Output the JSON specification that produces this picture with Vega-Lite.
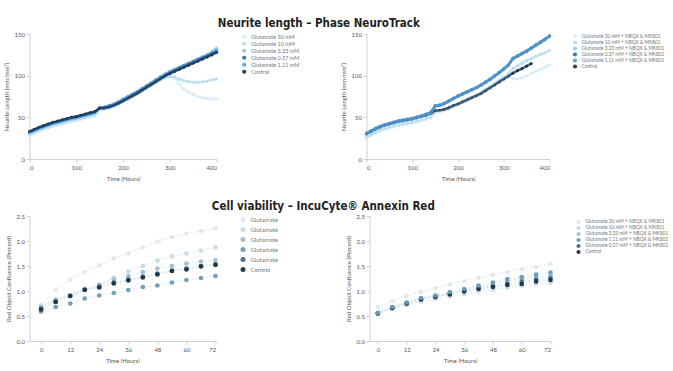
{
"$schema":"https://vega.github.io/schema/vega-lite/v6.json",
"background":"white",
"padding":{"left":2.5,"top":18,"right":0,"bottom":0},
"config":{
"view":{"stroke":null},
"font":"Lato",
"axis":{"domainColor":"#cfcfcf","tickColor":"#cfcfcf","tickSize":3,"labelFontSize":6,"labelColor":"#555","titleFontSize":6,"titleColor":"#555","titleFontWeight":"normal","grid":false,"labelPadding":2,"titlePadding":5},
"legend":{"labelFontSize":5.5,"labelColor":"#777","symbolType":"circle","rowPadding":0,"symbolSize":18,"title":null},
"title":{"fontSize":11.5,"font":"DejaVu Sans Condensed","fontWeight":"bold","color":"#222","anchor":"middle","offset":1}
},
"datasets":{
"tl":[
{"series":"Glutamate 30 mM","t":0,"v":28},{"series":"Glutamate 30 mM","t":10,"v":30.5},{"series":"Glutamate 30 mM","t":20,"v":33},{"series":"Glutamate 30 mM","t":30,"v":35},{"series":"Glutamate 30 mM","t":40,"v":37},{"series":"Glutamate 30 mM","t":50,"v":39},{"series":"Glutamate 30 mM","t":60,"v":40.5},{"series":"Glutamate 30 mM","t":70,"v":42},{"series":"Glutamate 30 mM","t":80,"v":43.5},{"series":"Glutamate 30 mM","t":90,"v":45},{"series":"Glutamate 30 mM","t":100,"v":46},{"series":"Glutamate 30 mM","t":110,"v":47.5},{"series":"Glutamate 30 mM","t":120,"v":49},{"series":"Glutamate 30 mM","t":130,"v":50.5},{"series":"Glutamate 30 mM","t":140,"v":52},{"series":"Glutamate 30 mM","t":150,"v":59.5},{"series":"Glutamate 30 mM","t":160,"v":59.5},{"series":"Glutamate 30 mM","t":170,"v":61},{"series":"Glutamate 30 mM","t":180,"v":63},{"series":"Glutamate 30 mM","t":190,"v":65.5},{"series":"Glutamate 30 mM","t":200,"v":68.5},{"series":"Glutamate 30 mM","t":210,"v":71.5},{"series":"Glutamate 30 mM","t":220,"v":74.5},{"series":"Glutamate 30 mM","t":230,"v":77.5},{"series":"Glutamate 30 mM","t":240,"v":81},{"series":"Glutamate 30 mM","t":250,"v":84.5},{"series":"Glutamate 30 mM","t":260,"v":88},{"series":"Glutamate 30 mM","t":270,"v":91.5},{"series":"Glutamate 30 mM","t":280,"v":94.5},{"series":"Glutamate 30 mM","t":290,"v":97},{"series":"Glutamate 30 mM","t":300,"v":98.5},{"series":"Glutamate 30 mM","t":310,"v":97.5},{"series":"Glutamate 30 mM","t":320,"v":90},{"series":"Glutamate 30 mM","t":330,"v":84},{"series":"Glutamate 30 mM","t":340,"v":80.5},{"series":"Glutamate 30 mM","t":350,"v":77.5},{"series":"Glutamate 30 mM","t":360,"v":75},{"series":"Glutamate 30 mM","t":370,"v":73.5},{"series":"Glutamate 30 mM","t":380,"v":72.5},{"series":"Glutamate 30 mM","t":390,"v":72},{"series":"Glutamate 30 mM","t":400,"v":72},
{"series":"Glutamate 10 mM","t":0,"v":29},{"series":"Glutamate 10 mM","t":10,"v":31.5},{"series":"Glutamate 10 mM","t":20,"v":34},{"series":"Glutamate 10 mM","t":30,"v":36},{"series":"Glutamate 10 mM","t":40,"v":38},{"series":"Glutamate 10 mM","t":50,"v":40},{"series":"Glutamate 10 mM","t":60,"v":41.5},{"series":"Glutamate 10 mM","t":70,"v":43},{"series":"Glutamate 10 mM","t":80,"v":44.5},{"series":"Glutamate 10 mM","t":90,"v":46},{"series":"Glutamate 10 mM","t":100,"v":47},{"series":"Glutamate 10 mM","t":110,"v":48.5},{"series":"Glutamate 10 mM","t":120,"v":50},{"series":"Glutamate 10 mM","t":130,"v":51.5},{"series":"Glutamate 10 mM","t":140,"v":53},{"series":"Glutamate 10 mM","t":150,"v":60},{"series":"Glutamate 10 mM","t":160,"v":60},{"series":"Glutamate 10 mM","t":170,"v":61.5},{"series":"Glutamate 10 mM","t":180,"v":63.5},{"series":"Glutamate 10 mM","t":190,"v":66},{"series":"Glutamate 10 mM","t":200,"v":69},{"series":"Glutamate 10 mM","t":210,"v":72},{"series":"Glutamate 10 mM","t":220,"v":75},{"series":"Glutamate 10 mM","t":230,"v":78},{"series":"Glutamate 10 mM","t":240,"v":81.5},{"series":"Glutamate 10 mM","t":250,"v":85},{"series":"Glutamate 10 mM","t":260,"v":88.5},{"series":"Glutamate 10 mM","t":270,"v":92},{"series":"Glutamate 10 mM","t":280,"v":95},{"series":"Glutamate 10 mM","t":290,"v":97.5},{"series":"Glutamate 10 mM","t":300,"v":99},{"series":"Glutamate 10 mM","t":310,"v":98.5},{"series":"Glutamate 10 mM","t":320,"v":96},{"series":"Glutamate 10 mM","t":330,"v":94},{"series":"Glutamate 10 mM","t":340,"v":93},{"series":"Glutamate 10 mM","t":350,"v":92},{"series":"Glutamate 10 mM","t":360,"v":92},{"series":"Glutamate 10 mM","t":370,"v":92.5},{"series":"Glutamate 10 mM","t":380,"v":93.5},{"series":"Glutamate 10 mM","t":390,"v":95},{"series":"Glutamate 10 mM","t":400,"v":96},
{"series":"Glutamate 3.33 mM","t":0,"v":31},{"series":"Glutamate 3.33 mM","t":10,"v":33.5},{"series":"Glutamate 3.33 mM","t":20,"v":36},{"series":"Glutamate 3.33 mM","t":30,"v":38},{"series":"Glutamate 3.33 mM","t":40,"v":40},{"series":"Glutamate 3.33 mM","t":50,"v":42},{"series":"Glutamate 3.33 mM","t":60,"v":43.5},{"series":"Glutamate 3.33 mM","t":70,"v":45},{"series":"Glutamate 3.33 mM","t":80,"v":46.5},{"series":"Glutamate 3.33 mM","t":90,"v":48},{"series":"Glutamate 3.33 mM","t":100,"v":49},{"series":"Glutamate 3.33 mM","t":110,"v":50.5},{"series":"Glutamate 3.33 mM","t":120,"v":52},{"series":"Glutamate 3.33 mM","t":130,"v":53.5},{"series":"Glutamate 3.33 mM","t":140,"v":55},{"series":"Glutamate 3.33 mM","t":150,"v":61.5},{"series":"Glutamate 3.33 mM","t":160,"v":62},{"series":"Glutamate 3.33 mM","t":170,"v":63.5},{"series":"Glutamate 3.33 mM","t":180,"v":65.5},{"series":"Glutamate 3.33 mM","t":190,"v":68},{"series":"Glutamate 3.33 mM","t":200,"v":71},{"series":"Glutamate 3.33 mM","t":210,"v":74},{"series":"Glutamate 3.33 mM","t":220,"v":77},{"series":"Glutamate 3.33 mM","t":230,"v":80},{"series":"Glutamate 3.33 mM","t":240,"v":83.5},{"series":"Glutamate 3.33 mM","t":250,"v":87},{"series":"Glutamate 3.33 mM","t":260,"v":90.5},{"series":"Glutamate 3.33 mM","t":270,"v":94},{"series":"Glutamate 3.33 mM","t":280,"v":97.5},{"series":"Glutamate 3.33 mM","t":290,"v":101},{"series":"Glutamate 3.33 mM","t":300,"v":104},{"series":"Glutamate 3.33 mM","t":310,"v":106.5},{"series":"Glutamate 3.33 mM","t":320,"v":109},{"series":"Glutamate 3.33 mM","t":330,"v":111.5},{"series":"Glutamate 3.33 mM","t":340,"v":114},{"series":"Glutamate 3.33 mM","t":350,"v":116.5},{"series":"Glutamate 3.33 mM","t":360,"v":119},{"series":"Glutamate 3.33 mM","t":370,"v":121.5},{"series":"Glutamate 3.33 mM","t":380,"v":124.5},{"series":"Glutamate 3.33 mM","t":390,"v":128.5},{"series":"Glutamate 3.33 mM","t":400,"v":133},
{"series":"Glutamate 1.11 mM","t":0,"v":31.5},{"series":"Glutamate 1.11 mM","t":10,"v":34},{"series":"Glutamate 1.11 mM","t":20,"v":36.5},{"series":"Glutamate 1.11 mM","t":30,"v":38.5},{"series":"Glutamate 1.11 mM","t":40,"v":40.5},{"series":"Glutamate 1.11 mM","t":50,"v":42.5},{"series":"Glutamate 1.11 mM","t":60,"v":44},{"series":"Glutamate 1.11 mM","t":70,"v":45.5},{"series":"Glutamate 1.11 mM","t":80,"v":47},{"series":"Glutamate 1.11 mM","t":90,"v":48.5},{"series":"Glutamate 1.11 mM","t":100,"v":49.5},{"series":"Glutamate 1.11 mM","t":110,"v":51},{"series":"Glutamate 1.11 mM","t":120,"v":52.5},{"series":"Glutamate 1.11 mM","t":130,"v":54},{"series":"Glutamate 1.11 mM","t":140,"v":55.5},{"series":"Glutamate 1.11 mM","t":150,"v":62},{"series":"Glutamate 1.11 mM","t":160,"v":62.5},{"series":"Glutamate 1.11 mM","t":170,"v":64},{"series":"Glutamate 1.11 mM","t":180,"v":66},{"series":"Glutamate 1.11 mM","t":190,"v":68.5},{"series":"Glutamate 1.11 mM","t":200,"v":72},{"series":"Glutamate 1.11 mM","t":210,"v":75},{"series":"Glutamate 1.11 mM","t":220,"v":78},{"series":"Glutamate 1.11 mM","t":230,"v":81},{"series":"Glutamate 1.11 mM","t":240,"v":84.5},{"series":"Glutamate 1.11 mM","t":250,"v":88},{"series":"Glutamate 1.11 mM","t":260,"v":91.5},{"series":"Glutamate 1.11 mM","t":270,"v":95},{"series":"Glutamate 1.11 mM","t":280,"v":98.5},{"series":"Glutamate 1.11 mM","t":290,"v":102},{"series":"Glutamate 1.11 mM","t":300,"v":105},{"series":"Glutamate 1.11 mM","t":310,"v":107.5},{"series":"Glutamate 1.11 mM","t":320,"v":110},{"series":"Glutamate 1.11 mM","t":330,"v":112.5},{"series":"Glutamate 1.11 mM","t":340,"v":115},{"series":"Glutamate 1.11 mM","t":350,"v":117.5},{"series":"Glutamate 1.11 mM","t":360,"v":120},{"series":"Glutamate 1.11 mM","t":370,"v":122.5},{"series":"Glutamate 1.11 mM","t":380,"v":125},{"series":"Glutamate 1.11 mM","t":390,"v":127.5},{"series":"Glutamate 1.11 mM","t":400,"v":131},
{"series":"Glutamate 0.37 mM","t":0,"v":32.5},{"series":"Glutamate 0.37 mM","t":10,"v":35},{"series":"Glutamate 0.37 mM","t":20,"v":37.5},{"series":"Glutamate 0.37 mM","t":30,"v":39.5},{"series":"Glutamate 0.37 mM","t":40,"v":41.5},{"series":"Glutamate 0.37 mM","t":50,"v":43.5},{"series":"Glutamate 0.37 mM","t":60,"v":45},{"series":"Glutamate 0.37 mM","t":70,"v":46.5},{"series":"Glutamate 0.37 mM","t":80,"v":48},{"series":"Glutamate 0.37 mM","t":90,"v":49.5},{"series":"Glutamate 0.37 mM","t":100,"v":50.5},{"series":"Glutamate 0.37 mM","t":110,"v":52},{"series":"Glutamate 0.37 mM","t":120,"v":53.5},{"series":"Glutamate 0.37 mM","t":130,"v":55},{"series":"Glutamate 0.37 mM","t":140,"v":56.5},{"series":"Glutamate 0.37 mM","t":150,"v":61},{"series":"Glutamate 0.37 mM","t":160,"v":61.5},{"series":"Glutamate 0.37 mM","t":170,"v":63},{"series":"Glutamate 0.37 mM","t":180,"v":65},{"series":"Glutamate 0.37 mM","t":190,"v":67.5},{"series":"Glutamate 0.37 mM","t":200,"v":70.5},{"series":"Glutamate 0.37 mM","t":210,"v":73.5},{"series":"Glutamate 0.37 mM","t":220,"v":76.5},{"series":"Glutamate 0.37 mM","t":230,"v":79.5},{"series":"Glutamate 0.37 mM","t":240,"v":83},{"series":"Glutamate 0.37 mM","t":250,"v":86.5},{"series":"Glutamate 0.37 mM","t":260,"v":90},{"series":"Glutamate 0.37 mM","t":270,"v":93.5},{"series":"Glutamate 0.37 mM","t":280,"v":97},{"series":"Glutamate 0.37 mM","t":290,"v":100.5},{"series":"Glutamate 0.37 mM","t":300,"v":103.5},{"series":"Glutamate 0.37 mM","t":310,"v":106},{"series":"Glutamate 0.37 mM","t":320,"v":108.5},{"series":"Glutamate 0.37 mM","t":330,"v":111},{"series":"Glutamate 0.37 mM","t":340,"v":113.5},{"series":"Glutamate 0.37 mM","t":350,"v":116},{"series":"Glutamate 0.37 mM","t":360,"v":118.5},{"series":"Glutamate 0.37 mM","t":370,"v":121},{"series":"Glutamate 0.37 mM","t":380,"v":123.5},{"series":"Glutamate 0.37 mM","t":390,"v":126},{"series":"Glutamate 0.37 mM","t":400,"v":129},
{"series":"Control","t":0,"v":33},{"series":"Control","t":10,"v":35.5},{"series":"Control","t":20,"v":38},{"series":"Control","t":30,"v":40},{"series":"Control","t":40,"v":42},{"series":"Control","t":50,"v":44},{"series":"Control","t":60,"v":45.5},{"series":"Control","t":70,"v":47},{"series":"Control","t":80,"v":48.5},{"series":"Control","t":90,"v":50},{"series":"Control","t":100,"v":51},{"series":"Control","t":110,"v":52.5},{"series":"Control","t":120,"v":54},{"series":"Control","t":130,"v":55.5},{"series":"Control","t":140,"v":57},{"series":"Control","t":150,"v":61},{"series":"Control","t":160,"v":61},{"series":"Control","t":170,"v":62},{"series":"Control","t":180,"v":64},{"series":"Control","t":190,"v":66.5},{"series":"Control","t":200,"v":69.5},{"series":"Control","t":210,"v":72.5},{"series":"Control","t":220,"v":75.5},{"series":"Control","t":230,"v":78.5},{"series":"Control","t":240,"v":82},{"series":"Control","t":250,"v":85.5},{"series":"Control","t":260,"v":89},{"series":"Control","t":270,"v":92.5},{"series":"Control","t":280,"v":96},{"series":"Control","t":290,"v":99.5},{"series":"Control","t":300,"v":102.5},{"series":"Control","t":310,"v":105},{"series":"Control","t":320,"v":107.5},{"series":"Control","t":330,"v":110},{"series":"Control","t":340,"v":112.5},{"series":"Control","t":350,"v":115},{"series":"Control","t":360,"v":117.5},{"series":"Control","t":370,"v":120},{"series":"Control","t":380,"v":122.5},{"series":"Control","t":390,"v":125},{"series":"Control","t":400,"v":128}
],
"tr":[
{"series":"Glutamate 30 mM + NBQX & MK801","t":0,"v":25},{"series":"Glutamate 30 mM + NBQX & MK801","t":10,"v":28},{"series":"Glutamate 30 mM + NBQX & MK801","t":20,"v":31},{"series":"Glutamate 30 mM + NBQX & MK801","t":30,"v":33.5},{"series":"Glutamate 30 mM + NBQX & MK801","t":40,"v":35.5},{"series":"Glutamate 30 mM + NBQX & MK801","t":50,"v":37},{"series":"Glutamate 30 mM + NBQX & MK801","t":60,"v":38.5},{"series":"Glutamate 30 mM + NBQX & MK801","t":70,"v":40},{"series":"Glutamate 30 mM + NBQX & MK801","t":80,"v":41},{"series":"Glutamate 30 mM + NBQX & MK801","t":90,"v":42},{"series":"Glutamate 30 mM + NBQX & MK801","t":100,"v":43},{"series":"Glutamate 30 mM + NBQX & MK801","t":110,"v":44.5},{"series":"Glutamate 30 mM + NBQX & MK801","t":120,"v":46},{"series":"Glutamate 30 mM + NBQX & MK801","t":130,"v":47.5},{"series":"Glutamate 30 mM + NBQX & MK801","t":140,"v":49},{"series":"Glutamate 30 mM + NBQX & MK801","t":150,"v":56},{"series":"Glutamate 30 mM + NBQX & MK801","t":160,"v":56.5},{"series":"Glutamate 30 mM + NBQX & MK801","t":170,"v":58},{"series":"Glutamate 30 mM + NBQX & MK801","t":180,"v":60},{"series":"Glutamate 30 mM + NBQX & MK801","t":190,"v":62.5},{"series":"Glutamate 30 mM + NBQX & MK801","t":200,"v":65},{"series":"Glutamate 30 mM + NBQX & MK801","t":210,"v":67.5},{"series":"Glutamate 30 mM + NBQX & MK801","t":220,"v":70},{"series":"Glutamate 30 mM + NBQX & MK801","t":230,"v":73},{"series":"Glutamate 30 mM + NBQX & MK801","t":240,"v":76},{"series":"Glutamate 30 mM + NBQX & MK801","t":250,"v":79},{"series":"Glutamate 30 mM + NBQX & MK801","t":260,"v":82.5},{"series":"Glutamate 30 mM + NBQX & MK801","t":270,"v":86},{"series":"Glutamate 30 mM + NBQX & MK801","t":280,"v":89.5},{"series":"Glutamate 30 mM + NBQX & MK801","t":290,"v":93},{"series":"Glutamate 30 mM + NBQX & MK801","t":300,"v":97},{"series":"Glutamate 30 mM + NBQX & MK801","t":310,"v":100.5},{"series":"Glutamate 30 mM + NBQX & MK801","t":320,"v":96.5},{"series":"Glutamate 30 mM + NBQX & MK801","t":330,"v":96},{"series":"Glutamate 30 mM + NBQX & MK801","t":340,"v":97.5},{"series":"Glutamate 30 mM + NBQX & MK801","t":350,"v":100},{"series":"Glutamate 30 mM + NBQX & MK801","t":360,"v":102.5},{"series":"Glutamate 30 mM + NBQX & MK801","t":370,"v":105},{"series":"Glutamate 30 mM + NBQX & MK801","t":380,"v":107.5},{"series":"Glutamate 30 mM + NBQX & MK801","t":390,"v":110},{"series":"Glutamate 30 mM + NBQX & MK801","t":400,"v":113},
{"series":"Glutamate 10 mM + NBQX & MK801","t":0,"v":26},{"series":"Glutamate 10 mM + NBQX & MK801","t":10,"v":29},{"series":"Glutamate 10 mM + NBQX & MK801","t":20,"v":32},{"series":"Glutamate 10 mM + NBQX & MK801","t":30,"v":34.5},{"series":"Glutamate 10 mM + NBQX & MK801","t":40,"v":36.5},{"series":"Glutamate 10 mM + NBQX & MK801","t":50,"v":38},{"series":"Glutamate 10 mM + NBQX & MK801","t":60,"v":39.5},{"series":"Glutamate 10 mM + NBQX & MK801","t":70,"v":41},{"series":"Glutamate 10 mM + NBQX & MK801","t":80,"v":42},{"series":"Glutamate 10 mM + NBQX & MK801","t":90,"v":43},{"series":"Glutamate 10 mM + NBQX & MK801","t":100,"v":44},{"series":"Glutamate 10 mM + NBQX & MK801","t":110,"v":45.5},{"series":"Glutamate 10 mM + NBQX & MK801","t":120,"v":47},{"series":"Glutamate 10 mM + NBQX & MK801","t":130,"v":48.5},{"series":"Glutamate 10 mM + NBQX & MK801","t":140,"v":50},{"series":"Glutamate 10 mM + NBQX & MK801","t":150,"v":57},{"series":"Glutamate 10 mM + NBQX & MK801","t":160,"v":57.5},{"series":"Glutamate 10 mM + NBQX & MK801","t":170,"v":59},{"series":"Glutamate 10 mM + NBQX & MK801","t":180,"v":61},{"series":"Glutamate 10 mM + NBQX & MK801","t":190,"v":63.5},{"series":"Glutamate 10 mM + NBQX & MK801","t":200,"v":66},{"series":"Glutamate 10 mM + NBQX & MK801","t":210,"v":68.5},{"series":"Glutamate 10 mM + NBQX & MK801","t":220,"v":71},{"series":"Glutamate 10 mM + NBQX & MK801","t":230,"v":74},{"series":"Glutamate 10 mM + NBQX & MK801","t":240,"v":77},{"series":"Glutamate 10 mM + NBQX & MK801","t":250,"v":80},{"series":"Glutamate 10 mM + NBQX & MK801","t":260,"v":83.5},{"series":"Glutamate 10 mM + NBQX & MK801","t":270,"v":87},{"series":"Glutamate 10 mM + NBQX & MK801","t":280,"v":90.5},{"series":"Glutamate 10 mM + NBQX & MK801","t":290,"v":94.5},{"series":"Glutamate 10 mM + NBQX & MK801","t":300,"v":98.5},{"series":"Glutamate 10 mM + NBQX & MK801","t":310,"v":102},{"series":"Glutamate 10 mM + NBQX & MK801","t":320,"v":109},{"series":"Glutamate 10 mM + NBQX & MK801","t":330,"v":112},{"series":"Glutamate 10 mM + NBQX & MK801","t":340,"v":115},{"series":"Glutamate 10 mM + NBQX & MK801","t":350,"v":118},{"series":"Glutamate 10 mM + NBQX & MK801","t":360,"v":120.5},{"series":"Glutamate 10 mM + NBQX & MK801","t":370,"v":123},{"series":"Glutamate 10 mM + NBQX & MK801","t":380,"v":125.5},{"series":"Glutamate 10 mM + NBQX & MK801","t":390,"v":127.5},{"series":"Glutamate 10 mM + NBQX & MK801","t":400,"v":130},
{"series":"Control","t":0,"v":30},{"series":"Control","t":10,"v":33},{"series":"Control","t":20,"v":36},{"series":"Control","t":30,"v":38.5},{"series":"Control","t":40,"v":40.5},{"series":"Control","t":50,"v":42},{"series":"Control","t":60,"v":43.5},{"series":"Control","t":70,"v":45},{"series":"Control","t":80,"v":46},{"series":"Control","t":90,"v":47},{"series":"Control","t":100,"v":48},{"series":"Control","t":110,"v":49.5},{"series":"Control","t":120,"v":51},{"series":"Control","t":130,"v":52.5},{"series":"Control","t":140,"v":54.5},{"series":"Control","t":150,"v":58},{"series":"Control","t":160,"v":58.5},{"series":"Control","t":170,"v":59.5},{"series":"Control","t":180,"v":61.5},{"series":"Control","t":190,"v":64},{"series":"Control","t":200,"v":66},{"series":"Control","t":210,"v":68.5},{"series":"Control","t":220,"v":71},{"series":"Control","t":230,"v":73.5},{"series":"Control","t":240,"v":76},{"series":"Control","t":250,"v":78.5},{"series":"Control","t":260,"v":82},{"series":"Control","t":270,"v":85.5},{"series":"Control","t":280,"v":89},{"series":"Control","t":290,"v":92.5},{"series":"Control","t":300,"v":96},{"series":"Control","t":310,"v":99.5},{"series":"Control","t":320,"v":103},{"series":"Control","t":330,"v":106},{"series":"Control","t":340,"v":108.5},{"series":"Control","t":350,"v":111.5},{"series":"Control","t":360,"v":114.5},
{"series":"Glutamate 3.33 mM + NBQX & MK801","t":0,"v":30},{"series":"Glutamate 3.33 mM + NBQX & MK801","t":10,"v":33},{"series":"Glutamate 3.33 mM + NBQX & MK801","t":20,"v":36},{"series":"Glutamate 3.33 mM + NBQX & MK801","t":30,"v":38.5},{"series":"Glutamate 3.33 mM + NBQX & MK801","t":40,"v":40.5},{"series":"Glutamate 3.33 mM + NBQX & MK801","t":50,"v":42},{"series":"Glutamate 3.33 mM + NBQX & MK801","t":60,"v":43.5},{"series":"Glutamate 3.33 mM + NBQX & MK801","t":70,"v":45},{"series":"Glutamate 3.33 mM + NBQX & MK801","t":80,"v":46},{"series":"Glutamate 3.33 mM + NBQX & MK801","t":90,"v":47},{"series":"Glutamate 3.33 mM + NBQX & MK801","t":100,"v":48},{"series":"Glutamate 3.33 mM + NBQX & MK801","t":110,"v":49.5},{"series":"Glutamate 3.33 mM + NBQX & MK801","t":120,"v":51},{"series":"Glutamate 3.33 mM + NBQX & MK801","t":130,"v":53},{"series":"Glutamate 3.33 mM + NBQX & MK801","t":140,"v":55},{"series":"Glutamate 3.33 mM + NBQX & MK801","t":150,"v":63},{"series":"Glutamate 3.33 mM + NBQX & MK801","t":160,"v":64},{"series":"Glutamate 3.33 mM + NBQX & MK801","t":170,"v":66},{"series":"Glutamate 3.33 mM + NBQX & MK801","t":180,"v":69},{"series":"Glutamate 3.33 mM + NBQX & MK801","t":190,"v":72},{"series":"Glutamate 3.33 mM + NBQX & MK801","t":200,"v":75},{"series":"Glutamate 3.33 mM + NBQX & MK801","t":210,"v":77.5},{"series":"Glutamate 3.33 mM + NBQX & MK801","t":220,"v":80},{"series":"Glutamate 3.33 mM + NBQX & MK801","t":230,"v":82.5},{"series":"Glutamate 3.33 mM + NBQX & MK801","t":240,"v":85},{"series":"Glutamate 3.33 mM + NBQX & MK801","t":250,"v":88},{"series":"Glutamate 3.33 mM + NBQX & MK801","t":260,"v":91.5},{"series":"Glutamate 3.33 mM + NBQX & MK801","t":270,"v":95},{"series":"Glutamate 3.33 mM + NBQX & MK801","t":280,"v":99},{"series":"Glutamate 3.33 mM + NBQX & MK801","t":290,"v":103},{"series":"Glutamate 3.33 mM + NBQX & MK801","t":300,"v":107.5},{"series":"Glutamate 3.33 mM + NBQX & MK801","t":310,"v":112},{"series":"Glutamate 3.33 mM + NBQX & MK801","t":320,"v":120},{"series":"Glutamate 3.33 mM + NBQX & MK801","t":330,"v":123},{"series":"Glutamate 3.33 mM + NBQX & MK801","t":340,"v":126},{"series":"Glutamate 3.33 mM + NBQX & MK801","t":350,"v":129},{"series":"Glutamate 3.33 mM + NBQX & MK801","t":360,"v":132.5},{"series":"Glutamate 3.33 mM + NBQX & MK801","t":370,"v":136},{"series":"Glutamate 3.33 mM + NBQX & MK801","t":380,"v":139.5},{"series":"Glutamate 3.33 mM + NBQX & MK801","t":390,"v":143},{"series":"Glutamate 3.33 mM + NBQX & MK801","t":400,"v":147},
{"series":"Glutamate 0.37 mM + NBQX & MK801","t":0,"v":30.5},{"series":"Glutamate 0.37 mM + NBQX & MK801","t":10,"v":33.5},{"series":"Glutamate 0.37 mM + NBQX & MK801","t":20,"v":36.5},{"series":"Glutamate 0.37 mM + NBQX & MK801","t":30,"v":39},{"series":"Glutamate 0.37 mM + NBQX & MK801","t":40,"v":41},{"series":"Glutamate 0.37 mM + NBQX & MK801","t":50,"v":42.5},{"series":"Glutamate 0.37 mM + NBQX & MK801","t":60,"v":44},{"series":"Glutamate 0.37 mM + NBQX & MK801","t":70,"v":45.5},{"series":"Glutamate 0.37 mM + NBQX & MK801","t":80,"v":46.5},{"series":"Glutamate 0.37 mM + NBQX & MK801","t":90,"v":47.5},{"series":"Glutamate 0.37 mM + NBQX & MK801","t":100,"v":48.5},{"series":"Glutamate 0.37 mM + NBQX & MK801","t":110,"v":50},{"series":"Glutamate 0.37 mM + NBQX & MK801","t":120,"v":51.5},{"series":"Glutamate 0.37 mM + NBQX & MK801","t":130,"v":53.5},{"series":"Glutamate 0.37 mM + NBQX & MK801","t":140,"v":55.5},{"series":"Glutamate 0.37 mM + NBQX & MK801","t":150,"v":63.5},{"series":"Glutamate 0.37 mM + NBQX & MK801","t":160,"v":64.5},{"series":"Glutamate 0.37 mM + NBQX & MK801","t":170,"v":66.5},{"series":"Glutamate 0.37 mM + NBQX & MK801","t":180,"v":69.5},{"series":"Glutamate 0.37 mM + NBQX & MK801","t":190,"v":72.5},{"series":"Glutamate 0.37 mM + NBQX & MK801","t":200,"v":75.5},{"series":"Glutamate 0.37 mM + NBQX & MK801","t":210,"v":78},{"series":"Glutamate 0.37 mM + NBQX & MK801","t":220,"v":80.5},{"series":"Glutamate 0.37 mM + NBQX & MK801","t":230,"v":83},{"series":"Glutamate 0.37 mM + NBQX & MK801","t":240,"v":85.5},{"series":"Glutamate 0.37 mM + NBQX & MK801","t":250,"v":88.5},{"series":"Glutamate 0.37 mM + NBQX & MK801","t":260,"v":92},{"series":"Glutamate 0.37 mM + NBQX & MK801","t":270,"v":95.5},{"series":"Glutamate 0.37 mM + NBQX & MK801","t":280,"v":99.5},{"series":"Glutamate 0.37 mM + NBQX & MK801","t":290,"v":103.5},{"series":"Glutamate 0.37 mM + NBQX & MK801","t":300,"v":108},{"series":"Glutamate 0.37 mM + NBQX & MK801","t":310,"v":112.5},{"series":"Glutamate 0.37 mM + NBQX & MK801","t":320,"v":120.5},{"series":"Glutamate 0.37 mM + NBQX & MK801","t":330,"v":123.5},{"series":"Glutamate 0.37 mM + NBQX & MK801","t":340,"v":126.5},{"series":"Glutamate 0.37 mM + NBQX & MK801","t":350,"v":129.5},{"series":"Glutamate 0.37 mM + NBQX & MK801","t":360,"v":133},{"series":"Glutamate 0.37 mM + NBQX & MK801","t":370,"v":136.5},{"series":"Glutamate 0.37 mM + NBQX & MK801","t":380,"v":140},{"series":"Glutamate 0.37 mM + NBQX & MK801","t":390,"v":143.5},{"series":"Glutamate 0.37 mM + NBQX & MK801","t":400,"v":147.5},
{"series":"Glutamate 1.11 mM + NBQX & MK801","t":0,"v":31},{"series":"Glutamate 1.11 mM + NBQX & MK801","t":10,"v":34},{"series":"Glutamate 1.11 mM + NBQX & MK801","t":20,"v":37},{"series":"Glutamate 1.11 mM + NBQX & MK801","t":30,"v":39.5},{"series":"Glutamate 1.11 mM + NBQX & MK801","t":40,"v":41.5},{"series":"Glutamate 1.11 mM + NBQX & MK801","t":50,"v":43},{"series":"Glutamate 1.11 mM + NBQX & MK801","t":60,"v":44.5},{"series":"Glutamate 1.11 mM + NBQX & MK801","t":70,"v":46},{"series":"Glutamate 1.11 mM + NBQX & MK801","t":80,"v":47},{"series":"Glutamate 1.11 mM + NBQX & MK801","t":90,"v":48},{"series":"Glutamate 1.11 mM + NBQX & MK801","t":100,"v":49},{"series":"Glutamate 1.11 mM + NBQX & MK801","t":110,"v":50.5},{"series":"Glutamate 1.11 mM + NBQX & MK801","t":120,"v":52},{"series":"Glutamate 1.11 mM + NBQX & MK801","t":130,"v":54},{"series":"Glutamate 1.11 mM + NBQX & MK801","t":140,"v":56},{"series":"Glutamate 1.11 mM + NBQX & MK801","t":150,"v":64},{"series":"Glutamate 1.11 mM + NBQX & MK801","t":160,"v":65},{"series":"Glutamate 1.11 mM + NBQX & MK801","t":170,"v":67},{"series":"Glutamate 1.11 mM + NBQX & MK801","t":180,"v":70},{"series":"Glutamate 1.11 mM + NBQX & MK801","t":190,"v":73},{"series":"Glutamate 1.11 mM + NBQX & MK801","t":200,"v":76},{"series":"Glutamate 1.11 mM + NBQX & MK801","t":210,"v":78.5},{"series":"Glutamate 1.11 mM + NBQX & MK801","t":220,"v":81},{"series":"Glutamate 1.11 mM + NBQX & MK801","t":230,"v":83.5},{"series":"Glutamate 1.11 mM + NBQX & MK801","t":240,"v":86},{"series":"Glutamate 1.11 mM + NBQX & MK801","t":250,"v":89},{"series":"Glutamate 1.11 mM + NBQX & MK801","t":260,"v":92.5},{"series":"Glutamate 1.11 mM + NBQX & MK801","t":270,"v":96},{"series":"Glutamate 1.11 mM + NBQX & MK801","t":280,"v":100},{"series":"Glutamate 1.11 mM + NBQX & MK801","t":290,"v":104},{"series":"Glutamate 1.11 mM + NBQX & MK801","t":300,"v":108.5},{"series":"Glutamate 1.11 mM + NBQX & MK801","t":310,"v":113},{"series":"Glutamate 1.11 mM + NBQX & MK801","t":320,"v":121},{"series":"Glutamate 1.11 mM + NBQX & MK801","t":330,"v":124},{"series":"Glutamate 1.11 mM + NBQX & MK801","t":340,"v":127},{"series":"Glutamate 1.11 mM + NBQX & MK801","t":350,"v":130},{"series":"Glutamate 1.11 mM + NBQX & MK801","t":360,"v":133.5},{"series":"Glutamate 1.11 mM + NBQX & MK801","t":370,"v":137},{"series":"Glutamate 1.11 mM + NBQX & MK801","t":380,"v":140.5},{"series":"Glutamate 1.11 mM + NBQX & MK801","t":390,"v":144},{"series":"Glutamate 1.11 mM + NBQX & MK801","t":400,"v":148}
],
"bl":[
{"series":"Glutamate 30 mM","t":0,"v":0.72},{"series":"Glutamate 30 mM","t":6,"v":1.02},{"series":"Glutamate 30 mM","t":12,"v":1.23},{"series":"Glutamate 30 mM","t":18,"v":1.38},{"series":"Glutamate 30 mM","t":24,"v":1.51},{"series":"Glutamate 30 mM","t":30,"v":1.65},{"series":"Glutamate 30 mM","t":36,"v":1.75},{"series":"Glutamate 30 mM","t":42,"v":1.88},{"series":"Glutamate 30 mM","t":48,"v":1.99},{"series":"Glutamate 30 mM","t":54,"v":2.08},{"series":"Glutamate 30 mM","t":60,"v":2.15},{"series":"Glutamate 30 mM","t":66,"v":2.2},{"series":"Glutamate 30 mM","t":72,"v":2.25},
{"series":"Glutamate 10 mM","t":0,"v":0.7},{"series":"Glutamate 10 mM","t":6,"v":0.82},{"series":"Glutamate 10 mM","t":12,"v":0.92},{"series":"Glutamate 10 mM","t":18,"v":1.03},{"series":"Glutamate 10 mM","t":24,"v":1.13},{"series":"Glutamate 10 mM","t":30,"v":1.27},{"series":"Glutamate 10 mM","t":36,"v":1.39},{"series":"Glutamate 10 mM","t":42,"v":1.5},{"series":"Glutamate 10 mM","t":48,"v":1.61},{"series":"Glutamate 10 mM","t":54,"v":1.69},{"series":"Glutamate 10 mM","t":60,"v":1.75},{"series":"Glutamate 10 mM","t":66,"v":1.81},{"series":"Glutamate 10 mM","t":72,"v":1.87},
{"series":"Glutamate 3.33 mM","t":0,"v":0.68},{"series":"Glutamate 3.33 mM","t":6,"v":0.83},{"series":"Glutamate 3.33 mM","t":12,"v":0.91},{"series":"Glutamate 3.33 mM","t":18,"v":1.02},{"series":"Glutamate 3.33 mM","t":24,"v":1.12},{"series":"Glutamate 3.33 mM","t":30,"v":1.23},{"series":"Glutamate 3.33 mM","t":36,"v":1.3},{"series":"Glutamate 3.33 mM","t":42,"v":1.38},{"series":"Glutamate 3.33 mM","t":48,"v":1.45},{"series":"Glutamate 3.33 mM","t":54,"v":1.5},{"series":"Glutamate 3.33 mM","t":60,"v":1.55},{"series":"Glutamate 3.33 mM","t":66,"v":1.59},{"series":"Glutamate 3.33 mM","t":72,"v":1.62},
{"series":"Glutamate 1.11 mM","t":0,"v":0.59},{"series":"Glutamate 1.11 mM","t":6,"v":0.68},{"series":"Glutamate 1.11 mM","t":12,"v":0.75},{"series":"Glutamate 1.11 mM","t":18,"v":0.85},{"series":"Glutamate 1.11 mM","t":24,"v":0.91},{"series":"Glutamate 1.11 mM","t":30,"v":0.96},{"series":"Glutamate 1.11 mM","t":36,"v":1.02},{"series":"Glutamate 1.11 mM","t":42,"v":1.08},{"series":"Glutamate 1.11 mM","t":48,"v":1.11},{"series":"Glutamate 1.11 mM","t":54,"v":1.17},{"series":"Glutamate 1.11 mM","t":60,"v":1.22},{"series":"Glutamate 1.11 mM","t":66,"v":1.26},{"series":"Glutamate 1.11 mM","t":72,"v":1.3},
{"series":"Glutamate 0.37 mM","t":0,"v":0.65},{"series":"Glutamate 0.37 mM","t":6,"v":0.79},{"series":"Glutamate 0.37 mM","t":12,"v":0.9},{"series":"Glutamate 0.37 mM","t":18,"v":1.02},{"series":"Glutamate 0.37 mM","t":24,"v":1.09},{"series":"Glutamate 0.37 mM","t":30,"v":1.17},{"series":"Glutamate 0.37 mM","t":36,"v":1.23},{"series":"Glutamate 0.37 mM","t":42,"v":1.29},{"series":"Glutamate 0.37 mM","t":48,"v":1.35},{"series":"Glutamate 0.37 mM","t":54,"v":1.41},{"series":"Glutamate 0.37 mM","t":60,"v":1.45},{"series":"Glutamate 0.37 mM","t":66,"v":1.5},{"series":"Glutamate 0.37 mM","t":72,"v":1.54},
{"series":"Control","t":0,"v":0.63},{"series":"Control","t":6,"v":0.78},{"series":"Control","t":12,"v":0.9},{"series":"Control","t":18,"v":1.03},{"series":"Control","t":24,"v":1.07},{"series":"Control","t":30,"v":1.15},{"series":"Control","t":36,"v":1.21},{"series":"Control","t":42,"v":1.27},{"series":"Control","t":48,"v":1.33},{"series":"Control","t":54,"v":1.4},{"series":"Control","t":60,"v":1.43},{"series":"Control","t":66,"v":1.49},{"series":"Control","t":72,"v":1.52}
],
"br":[
{"series":"Glutamate 30 mM + NBQX & MK801","t":0,"v":0.68},{"series":"Glutamate 30 mM + NBQX & MK801","t":6,"v":0.8},{"series":"Glutamate 30 mM + NBQX & MK801","t":12,"v":0.9},{"series":"Glutamate 30 mM + NBQX & MK801","t":18,"v":0.98},{"series":"Glutamate 30 mM + NBQX & MK801","t":24,"v":1.06},{"series":"Glutamate 30 mM + NBQX & MK801","t":30,"v":1.13},{"series":"Glutamate 30 mM + NBQX & MK801","t":36,"v":1.2},{"series":"Glutamate 30 mM + NBQX & MK801","t":42,"v":1.26},{"series":"Glutamate 30 mM + NBQX & MK801","t":48,"v":1.32},{"series":"Glutamate 30 mM + NBQX & MK801","t":54,"v":1.38},{"series":"Glutamate 30 mM + NBQX & MK801","t":60,"v":1.44},{"series":"Glutamate 30 mM + NBQX & MK801","t":66,"v":1.48},{"series":"Glutamate 30 mM + NBQX & MK801","t":72,"v":1.54},
{"series":"Glutamate 10 mM + NBQX & MK801","t":0,"v":0.57},{"series":"Glutamate 10 mM + NBQX & MK801","t":6,"v":0.65},{"series":"Glutamate 10 mM + NBQX & MK801","t":12,"v":0.72},{"series":"Glutamate 10 mM + NBQX & MK801","t":18,"v":0.79},{"series":"Glutamate 10 mM + NBQX & MK801","t":24,"v":0.84},{"series":"Glutamate 10 mM + NBQX & MK801","t":30,"v":0.89},{"series":"Glutamate 10 mM + NBQX & MK801","t":36,"v":0.94},{"series":"Glutamate 10 mM + NBQX & MK801","t":42,"v":0.99},{"series":"Glutamate 10 mM + NBQX & MK801","t":48,"v":1.03},{"series":"Glutamate 10 mM + NBQX & MK801","t":54,"v":1.07},{"series":"Glutamate 10 mM + NBQX & MK801","t":60,"v":1.11},{"series":"Glutamate 10 mM + NBQX & MK801","t":66,"v":1.14},{"series":"Glutamate 10 mM + NBQX & MK801","t":72,"v":1.17},
{"series":"Glutamate 3.33 mM + NBQX & MK801","t":0,"v":0.56},{"series":"Glutamate 3.33 mM + NBQX & MK801","t":6,"v":0.67},{"series":"Glutamate 3.33 mM + NBQX & MK801","t":12,"v":0.76},{"series":"Glutamate 3.33 mM + NBQX & MK801","t":18,"v":0.85},{"series":"Glutamate 3.33 mM + NBQX & MK801","t":24,"v":0.9},{"series":"Glutamate 3.33 mM + NBQX & MK801","t":30,"v":0.96},{"series":"Glutamate 3.33 mM + NBQX & MK801","t":36,"v":1.02},{"series":"Glutamate 3.33 mM + NBQX & MK801","t":42,"v":1.08},{"series":"Glutamate 3.33 mM + NBQX & MK801","t":48,"v":1.14},{"series":"Glutamate 3.33 mM + NBQX & MK801","t":54,"v":1.2},{"series":"Glutamate 3.33 mM + NBQX & MK801","t":60,"v":1.25},{"series":"Glutamate 3.33 mM + NBQX & MK801","t":66,"v":1.28},{"series":"Glutamate 3.33 mM + NBQX & MK801","t":72,"v":1.31},
{"series":"Glutamate 0.37 mM + NBQX & MK801","t":0,"v":0.55},{"series":"Glutamate 0.37 mM + NBQX & MK801","t":6,"v":0.66},{"series":"Glutamate 0.37 mM + NBQX & MK801","t":12,"v":0.75},{"series":"Glutamate 0.37 mM + NBQX & MK801","t":18,"v":0.84},{"series":"Glutamate 0.37 mM + NBQX & MK801","t":24,"v":0.89},{"series":"Glutamate 0.37 mM + NBQX & MK801","t":30,"v":0.95},{"series":"Glutamate 0.37 mM + NBQX & MK801","t":36,"v":1.01},{"series":"Glutamate 0.37 mM + NBQX & MK801","t":42,"v":1.06},{"series":"Glutamate 0.37 mM + NBQX & MK801","t":48,"v":1.1},{"series":"Glutamate 0.37 mM + NBQX & MK801","t":54,"v":1.15},{"series":"Glutamate 0.37 mM + NBQX & MK801","t":60,"v":1.19},{"series":"Glutamate 0.37 mM + NBQX & MK801","t":66,"v":1.23},{"series":"Glutamate 0.37 mM + NBQX & MK801","t":72,"v":1.26},
{"series":"Control","t":0,"v":0.55},{"series":"Control","t":6,"v":0.66},{"series":"Control","t":12,"v":0.75},{"series":"Control","t":18,"v":0.83},{"series":"Control","t":24,"v":0.88},{"series":"Control","t":30,"v":0.93},{"series":"Control","t":36,"v":0.99},{"series":"Control","t":42,"v":1.04},{"series":"Control","t":48,"v":1.08},{"series":"Control","t":54,"v":1.12},{"series":"Control","t":60,"v":1.14},{"series":"Control","t":66,"v":1.19},{"series":"Control","t":72,"v":1.22},
{"series":"Glutamate 1.11 mM + NBQX & MK801","t":0,"v":0.56},{"series":"Glutamate 1.11 mM + NBQX & MK801","t":6,"v":0.68},{"series":"Glutamate 1.11 mM + NBQX & MK801","t":12,"v":0.77},{"series":"Glutamate 1.11 mM + NBQX & MK801","t":18,"v":0.86},{"series":"Glutamate 1.11 mM + NBQX & MK801","t":24,"v":0.91},{"series":"Glutamate 1.11 mM + NBQX & MK801","t":30,"v":0.98},{"series":"Glutamate 1.11 mM + NBQX & MK801","t":36,"v":1.04},{"series":"Glutamate 1.11 mM + NBQX & MK801","t":42,"v":1.11},{"series":"Glutamate 1.11 mM + NBQX & MK801","t":48,"v":1.17},{"series":"Glutamate 1.11 mM + NBQX & MK801","t":54,"v":1.24},{"series":"Glutamate 1.11 mM + NBQX & MK801","t":60,"v":1.28},{"series":"Glutamate 1.11 mM + NBQX & MK801","t":66,"v":1.33},{"series":"Glutamate 1.11 mM + NBQX & MK801","t":72,"v":1.37}
]
},
"spacing":19,
"vconcat":[
{"title":{"text":"Neurite length – Phase NeuroTrack","dx":-15},
"bounds":"flush","spacing":150,
"resolve":{"scale":{"color":"independent","x":"independent","y":"independent"}},
"hconcat":[
{"width":187,"height":125,"data":{"name":"tl"},
"encoding":{
"x":{"field":"t","type":"quantitative","scale":{"domain":[0,400],"nice":false},"axis":{"values":[0,100,200,300,400],"title":"Time (Hours)"}},
"y":{"field":"v","type":"quantitative","scale":{"domain":[0,150],"nice":false},"axis":{"values":[0,50,100,150],"title":"Neurite Length (mm/mm²)"}},
"color":{"field":"series","type":"nominal","scale":{"domain":["Glutamate 30 mM","Glutamate 10 mM","Glutamate 3.33 mM","Glutamate 0.37 mM","Glutamate 1.11 mM","Control"],"range":["#d6ebf8","#b9dcf2","#8cc8ee","#2c6aa0","#4f9ad6","#13304d"]},"legend":{"offset":20,"symbolType":"circle","symbolSize":18,"symbolStrokeWidth":0,"rowPadding":0}}},
"layer":[
{"mark":{"type":"point","filled":true,"size":10,"opacity":0.9}},
{"mark":{"type":"line","strokeWidth":2.5,"opacity":0.75}}
]},
{"width":183,"height":125,"data":{"name":"tr"},
"encoding":{
"x":{"field":"t","type":"quantitative","scale":{"domain":[0,400],"nice":false},"axis":{"values":[0,100,200,300,400],"title":"Time (Hours)"}},
"y":{"field":"v","type":"quantitative","scale":{"domain":[0,150],"nice":false},"axis":{"values":[0,50,100,150],"title":"Neurite Length (mm/mm²)"}},
"color":{"field":"series","type":"nominal","scale":{"domain":["Glutamate 30 mM + NBQX & MK801","Glutamate 10 mM + NBQX & MK801","Glutamate 3.33 mM + NBQX & MK801","Glutamate 0.37 mM + NBQX & MK801","Glutamate 1.11 mM + NBQX & MK801","Control"],"range":["#d6ebf8","#b9dcf2","#8cc8ee","#2c6aa0","#4f9ad6","#13304d"]},"legend":{"offset":18,"labelFontSize":4.8,"symbolType":"circle","symbolSize":18,"symbolStrokeWidth":0,"rowPadding":0}}},
"layer":[
{"mark":{"type":"point","filled":true,"size":10,"opacity":0.9}},
{"mark":{"type":"line","strokeWidth":2.5,"opacity":0.75}}
]}
]},
{"title":{"text":"Cell viability – IncuCyte® Annexin Red","dx":-15},
"bounds":"flush","spacing":154,
"resolve":{"scale":{"color":"independent","x":"independent","y":"independent"}},
"hconcat":[
{"width":186,"height":125,"data":{"name":"bl"},
"encoding":{
"x":{"field":"t","type":"quantitative","scale":{"domain":[-4.8,72],"nice":false},"axis":{"values":[0,12,24,36,48,60,72],"title":"Time (Hours)"}},
"y":{"field":"v","type":"quantitative","scale":{"domain":[0,2.5],"nice":false},"axis":{"values":[0,0.5,1,1.5,2,2.5],"format":".1f","title":"Red Object Confluence (Percent)"}}},
"layer":[
{"mark":{"type":"line","strokeWidth":0.7,"color":"#c9dbe5","strokeDash":[2,1.5]},"encoding":{"detail":{"field":"series","type":"nominal"}}},
{"mark":{"type":"point","filled":true,"size":22,"opacity":0.95},
"encoding":{"color":{"field":"series","type":"nominal","scale":{"domain":["Glutamate 30 mM","Glutamate 10 mM","Glutamate 3.33 mM","Glutamate 1.11 mM","Glutamate 0.37 mM","Control"],"range":["#dde9ef","#c3dae5","#9dbfd0","#6b9bb3","#3e6e88","#1b3446"]},"legend":{"offset":22,"labelExpr":"split(datum.label,' ')[0]","labelFontSize":6,"symbolSize":25,"rowPadding":3}}}}
]},
{"width":181,"height":125,"data":{"name":"br"},
"encoding":{
"x":{"field":"t","type":"quantitative","scale":{"domain":[-3.5,72],"nice":false},"axis":{"values":[0,12,24,36,48,60,72],"title":"Time (Hours)"}},
"y":{"field":"v","type":"quantitative","scale":{"domain":[0,2.5],"nice":false},"axis":{"values":[0,0.5,1,1.5,2,2.5],"format":".1f","title":"Red Object Confluence (Percent)"}}},
"layer":[
{"mark":{"type":"line","strokeWidth":0.7,"color":"#c9dbe5","strokeDash":[2,1.5]},"encoding":{"detail":{"field":"series","type":"nominal"}}},
{"mark":{"type":"point","filled":true,"size":22,"opacity":0.95},
"encoding":{"color":{"field":"series","type":"nominal","scale":{"domain":["Glutamate 30 mM + NBQX & MK801","Glutamate 10 mM + NBQX & MK801","Glutamate 3.33 mM + NBQX & MK801","Glutamate 1.11 mM + NBQX & MK801","Glutamate 0.37 mM + NBQX & MK801","Control"],"range":["#dde9ef","#c3dae5","#9dbfd0","#6b9bb3","#3e6e88","#1b3446"]},"legend":{"offset":20,"labelFontSize":4.8,"padding":3}}}}
]}
]}
]
}
